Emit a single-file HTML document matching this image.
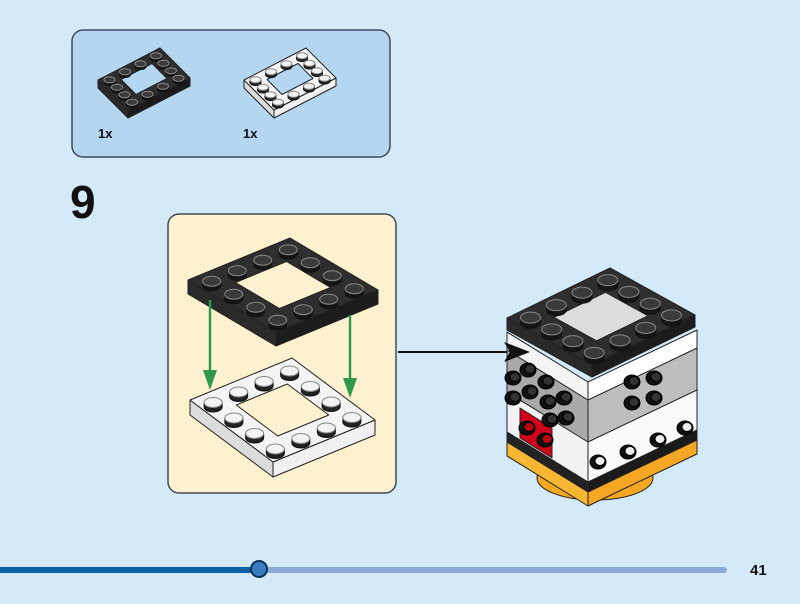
<!DOCTYPE html><html><head><style>
html,body{margin:0;padding:0;background:#d5eaf9;width:800px;height:604px;overflow:hidden;font-family:"Liberation Sans",sans-serif}
</style></head><body>
<svg id="s" width="800" height="604" xmlns="http://www.w3.org/2000/svg">
<rect width="800" height="604" fill="#d5eaf9"/>
<rect x="72" y="30" width="318" height="127" rx="11" fill="#b4d6f1" stroke="#3d4a57" stroke-width="1.5"/>
<text x="98" y="138" font-size="13" font-weight="bold" fill="#111">1x</text>
<text x="243" y="138" font-size="13" font-weight="bold" fill="#111">1x</text>
<text x="70" y="218" font-size="46" font-weight="bold" fill="#111">9</text>
<rect x="168" y="214" width="228" height="279" rx="11" fill="#fdf1cf" stroke="#3d4a57" stroke-width="1.5"/>
<line x1="398" y1="352" x2="508" y2="352" stroke="#111" stroke-width="2"/>
<line x1="0" y1="570" x2="724" y2="570" stroke="#8aa9d8" stroke-width="6" stroke-linecap="round"/>
<line x1="0" y1="570" x2="258" y2="570" stroke="#0b5fa5" stroke-width="6"/>
<circle cx="259" cy="569" r="8" fill="#3a7cc4" stroke="#0a2f55" stroke-width="2"/>
<text x="750" y="575" font-size="15" font-weight="bold" fill="#111">41</text>
<g id="g"></g>
</svg>
<script>
const g=document.getElementById('g');let h='';
function P(a){return a.map(p=>p[0].toFixed(1)+','+p[1].toFixed(1)).join(' ')}
function poly(pts,f,s,w){h+=`<polygon points="${P(pts)}" fill="${f}" stroke="${s||'#222'}" stroke-width="${w||1}" stroke-linejoin="round"/>`}
function add(a,b){return[a[0]+b[0],a[1]+b[1]]}
function plate(L,B,R,t,top,s1,s2,stud,sr,hc){
 const F=[L[0]+R[0]-B[0],L[1]+R[1]-B[1]];
 const pt=(u,v)=>[L[0]+u*(B[0]-L[0])+v*(F[0]-L[0]),L[1]+u*(B[1]-L[1])+v*(F[1]-L[1])];
 const T=[0,t];
 poly([L,F,add(F,T),add(L,T)],s1);poly([F,R,add(R,T),add(F,T)],s2);
 poly([L,B,R,F],top);
 const hole=[pt(.25,.25),pt(.75,.25),pt(.75,.75),pt(.25,.75)];
 poly(hole,hc,'#222');
 let st=[];const c=[.125,.375,.625,.875];
 for(const u of c)for(const v of c){if(u>.2&&u<.8&&v>.2&&v<.8)continue;st.push(pt(u,v));}
 st.sort((a,b)=>a[1]-b[1]);
 const rx=sr,ry=sr*.55,hh=sr*.5;
 for(const p of st){h+=`<path d="M${p[0]-rx},${p[1]} v${hh} a${rx},${ry} 0 0 0 ${2*rx},0 v${-hh}" fill="${stud[1]}" stroke="#111" stroke-width="1"/><ellipse cx="${p[0]}" cy="${p[1]}" rx="${rx}" ry="${ry}" fill="${stud[0]}" stroke="#888" stroke-width="1"/>`}
}
const dk=['#3a3a3a','#151515'],wt=['#f3f3f3','#222'];
// parts
plate([98,80],[160,48],[190,78],8,'#2e2e2e','#2a2a2a','#1c1c1c',dk,5.5,'#b4d6f1');
plate([244,80],[306,48],[336,78],8,'#f4f4f4','#dcdcdc','#f0f0f0',wt,5.5,'#b4d6f1');
// step
plate([190,400],[292,358],[375,420],15,'#f4f4f4','#dcdcdc','#f0f0f0',wt,9,'#fdf1cf');
plate([188,280],[290,238],[378,290],14,'#2e2e2e','#2a2a2a','#1c1c1c',dk,9,'#fdf1cf');
h+=`<line x1="210" y1="300" x2="210" y2="375" stroke="#2e9a4a" stroke-width="2.5"/><polygon points="203,370 217,370 210,390" fill="#2e9a4a"/>`;
h+=`<line x1="350" y1="315" x2="350" y2="383" stroke="#2e9a4a" stroke-width="2.5"/><polygon points="343,378 357,378 350,398" fill="#2e9a4a"/>`;
// model
h+=`<ellipse cx="595" cy="478" rx="58" ry="22" fill="#f5a623" stroke="#222"/>`;
const L=[507,320],F=[588,370],R=[697,318];
function band(y0,y1,c1,c2){poly([[L[0],L[1]+y0],[F[0],F[1]+y0],[F[0],F[1]+y1],[L[0],L[1]+y1]],c1);poly([[F[0],F[1]+y0],[R[0],R[1]+y0],[R[0],R[1]+y1],[F[0],F[1]+y1]],c2);}
band(120,136,'#f7b733','#f5a623');
band(110,122,'#222','#1a1a1a');
band(70,112,'#f2f2f2','#fafafa');
band(28,72,'#a9a9a9','#bdbdbd');
band(12,30,'#f4f4f4','#fff');
poly([[520,408],[552,428],[552,458],[520,438]],'#d0021b');
function sst(x,y,c){h+=`<ellipse cx="${x}" cy="${y}" rx="8" ry="7" fill="#111" stroke="#000"/><ellipse cx="${x+2}" cy="${y-1}" rx="5" ry="4.5" fill="${c}" stroke="#000"/>`}
[[513,378],[528,370],[513,398],[530,392],[546,382],[548,402],[564,398],[566,418],[550,420]].forEach(p=>sst(p[0],p[1],'#333'));
[[527,428],[545,440]].forEach(p=>sst(p[0],p[1],'#c0000f'));
[[632,382],[654,378],[632,403],[654,398]].forEach(p=>sst(p[0],p[1],'#333'));
[[598,462],[628,452],[658,440],[685,428]].forEach(p=>sst(p[0],p[1],'#eee'));
plate([507,318],[610,268],[695,315],12,'#2e2e2e','#2a2a2a','#1c1c1c',dk,10,'#dcdcdc');
h+=`<polygon points="530,352 504,342 510,352 504,362" fill="#111"/>`;
g.innerHTML=h;
</script>
</body></html>
